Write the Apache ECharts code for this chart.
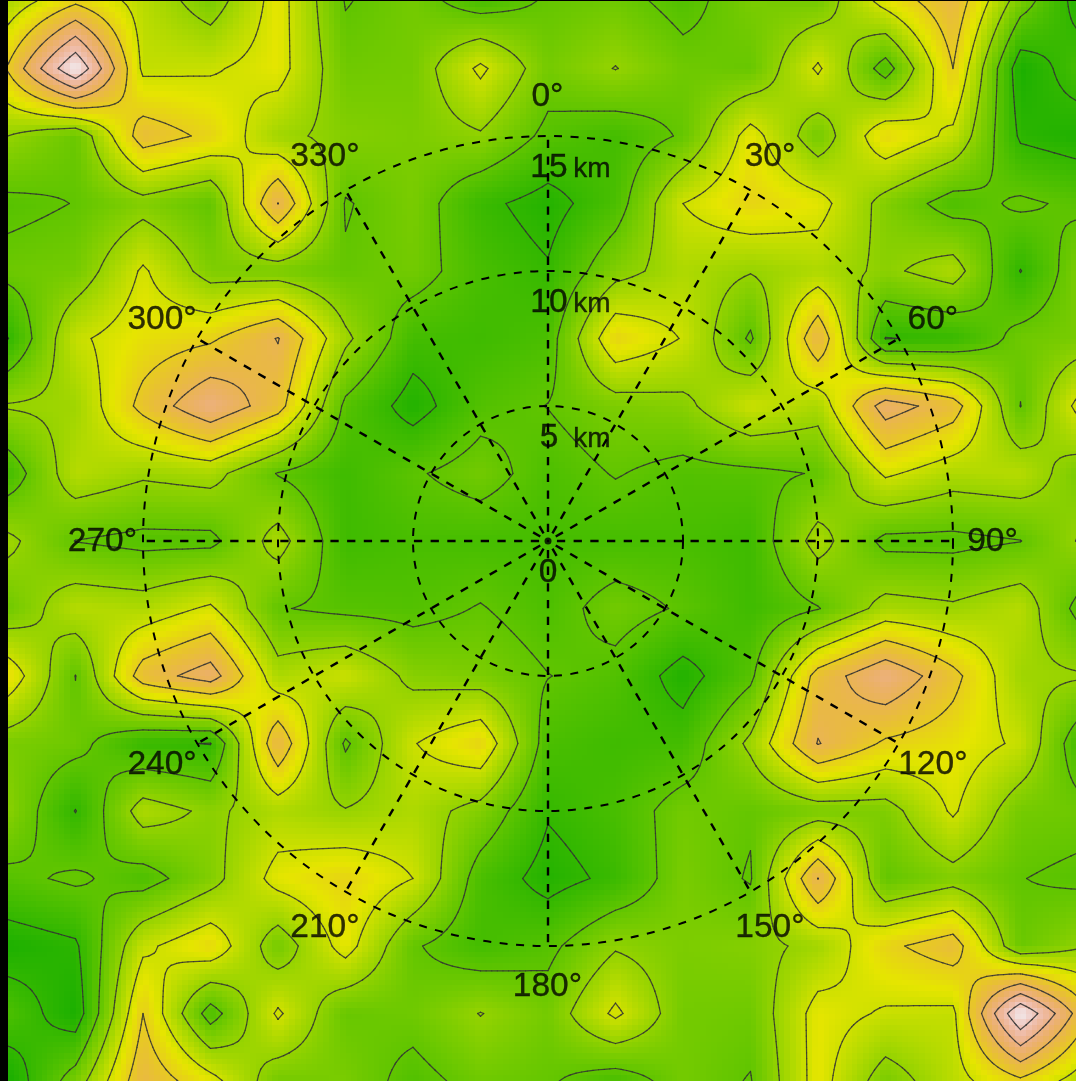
<!DOCTYPE html>
<html><head><meta charset="utf-8">
<style>html,body{margin:0;padding:0;background:#000}#c{width:1076px;height:1081px}</style>
<script src="https://cdn.jsdelivr.net/npm/echarts@6/dist/echarts.min.js"></script>
</head><body><div id="c"></div>
<script>
// Field values on a 2.5 km lattice, from y = +20 km (top) to y = -20 km, x = -20 .. +20 km.
const row00=[2.4,3.8,2.65,1.5,3.4,.95,1.4,.5,1.1,1.3,.7,1.5,1.4,3.35,4.7,1.47,-.64];
const row01=[4.1,8.0,2.8,2.9,3.37,1.3,1.4,3.2,1.4,2.03,1.3,1.15,3.15,.55,4.0,-.56,.6];
const row02=[2.0,1.2,4.5,3.8,2.24,1.7,1.55,1.9,.77,.4,1.1,3.4,1.4,3.7,2.8,-.14,-.5];
const row03=[.8,1.02,1.65,1.05,5.02,.93,1.5,.2,-.33,.55,3.0,3.8,3.35,1.65,.6,1.15,.78];
const row04=[1.25,1.4,3.13,1.6,1.5,1.1,1.37,.5,.08,1.65,2.45,2.05,2.45,1.82,2.45,-.03,1.8];
const row05=[-.02,2.85,3.5,3.85,5.05,2.2,.4,.3,.55,3.8,2.95,.85,4.8,-.03,.12,1.3,1.5];
const row06=[2.08,2.2,4.3,5.85,4.4,.8,-.37,.7,1.02,1.55,1.75,2.95,2.4,5.48,4.5,.98,3.65];
const row07=[.4,2.6,2.14,2.35,.95,.3,.9,1.37,.6,1.05,.72,.8,1.05,3.15,2.45,2.6,1.3];
const row08=[2.23,.98,.75,.75,2.38,.3,.5,.45,.45,.45,.5,.3,2.38,.75,.75,.98,2.23];
const row09=[1.3,2.6,2.45,3.15,1.05,.8,.72,1.05,.6,1.37,.9,.3,.95,2.35,2.14,2.6,.4];
const row10=[3.65,.98,4.5,5.48,2.4,2.95,1.75,1.55,1.02,.7,-.37,.8,4.4,5.85,4.3,2.2,2.08];
const row11=[1.5,1.3,.12,-.03,4.8,.85,2.95,3.8,.55,.3,.4,2.2,5.05,3.85,3.5,2.85,-.02];
const row12=[1.8,-.03,2.45,1.82,2.45,2.05,2.45,1.65,.08,.5,1.37,1.1,1.5,1.6,3.13,1.4,1.25];
const row13=[.78,1.15,.6,1.65,3.35,3.8,3.0,.55,-.33,.2,1.5,.93,5.02,1.05,1.65,1.02,.8];
const row14=[-.5,-.14,2.8,3.7,1.4,3.4,1.1,.4,.77,1.9,1.55,1.7,2.24,3.8,4.5,1.2,2.0];
const row15=[.6,-.56,4.0,.55,3.15,1.15,1.3,2.03,1.4,3.2,1.4,1.3,3.37,2.9,2.8,8.0,4.1];
const row16=[-.64,1.47,4.7,3.35,1.4,1.5,.7,1.3,1.1,.5,1.4,.95,3.4,1.5,2.65,3.8,2.4];
const rows=[row00,row01,row02,row03,row04,row05,row06,row07,row08,row09,row10,row11,row12,row13,row14,row15,row16];
const contourLevels=[0,1,2,3,4,5,6,7];
const rangeTicks=[5,10,15];
const angleTicks=[0,30,60,90,120,150,180,210,240,270,300,330];

const STEP=2.5, EXT=20, SUB=12;
const T0=.136, TK=.108;

// R terrain.colors style ramp
function hsv(h,s,v){
  const c=v*s, hp=h/60, x=c*(1-Math.abs(hp%2-1)), m=v-c;
  let r=0,g=0,b=0;
  if(hp<1){r=c;g=x}else if(hp<2){r=x;g=c}else{r=0;g=c;b=x}
  const f=a=>Math.round((a+m)*255);
  return 'rgb('+f(r)+','+f(g)+','+f(b)+')';
}
function terrain(z){
  const t=Math.max(0,Math.min(1,T0+TK*z));
  if(t<=.5){const u=t/.5;return hsv(120-60*u,1,.65+.25*u)}
  const u=(t-.5)/.5;return hsv(60-60*u,1-u,.9+.05*u);
}

const cells=[];
for(let j=0;j<16;j++)for(let i=0;i<16;i++){
  cells.push([-EXT+i*STEP,EXT-j*STEP,rows[j][i],rows[j][i+1],rows[j+1][i],rows[j+1][i+1]]);
}

function renderCell(params,api){
  const x0=api.value(0),y0=api.value(1),a=api.value(2),b=api.value(3),c=api.value(4),d=api.value(5);
  const ch=[];
  const val=(u,v)=>a*(1-u)*(1-v)+b*u*(1-v)+c*(1-u)*v+d*u*v;
  const pt=(u,v)=>api.coord([x0+u*STEP,y0-v*STEP]);
  for(let p=0;p<SUB;p++)for(let q=0;q<SUB;q++){
    const tl=pt(p/SUB,q/SUB),br=pt((p+1)/SUB,(q+1)/SUB);
    const X=Math.round(tl[0]),Y=Math.round(tl[1]),W=Math.round(br[0])-X,H=Math.round(br[1])-Y;
    ch.push({type:'rect',silent:true,shape:{x:X,y:Y,width:W,height:H},
      style:{fill:terrain(val((p+.5)/SUB,(q+.5)/SUB))}});
  }
  const lineStyle={stroke:'rgba(50,50,50,.85)',lineWidth:1.25,fill:null,lineCap:'round'};
  const lo=Math.min(a,b,c,d),hi=Math.max(a,b,c,d);
  contourLevels.forEach(L=>{
    if(L<lo||L>hi)return;
    for(let p=0;p<SUB;p++)for(let q=0;q<SUB;q++){
      const u0=p/SUB,u1=(p+1)/SUB,v0=q/SUB,v1=(q+1)/SUB;
      const A=val(u0,v0),B=val(u1,v0),C=val(u1,v1),D=val(u0,v1);
      const hits=[];
      const cross=(f,g,uf,vf,ug,vg)=>{
        if((f<L)!==(g<L)){const s=(L-f)/(g-f);hits.push(pt(uf+(ug-uf)*s,vf+(vg-vf)*s));}
      };
      cross(A,B,u0,v0,u1,v0);cross(B,C,u1,v0,u1,v1);cross(D,C,u0,v1,u1,v1);cross(A,D,u0,v0,u0,v1);
      for(let k=0;k+1<hits.length;k+=2){
        ch.push({type:'line',silent:true,z2:5,shape:{x1:hits[k][0],y1:hits[k][1],x2:hits[k+1][0],y2:hits[k+1][1]},style:lineStyle});
      }
    }
  });
  return {type:'group',children:ch};
}

const font='"Liberation Sans",Arial,sans-serif';
const PX_PER_KM=27;
const angleLabelR=445/PX_PER_KM, rangeLabelGap=30/PX_PER_KM;
const heavy={color:'#000',textBorderColor:'#000',textBorderWidth:.35,fontFamily:font};

const option={
  backgroundColor:'#000',
  animation:false,
  grid:{left:8,top:1,width:1068,height:1080,show:false},
  xAxis:{type:'value',min:-EXT,max:-EXT+1068/PX_PER_KM,show:false},
  yAxis:{type:'value',min:-EXT,max:EXT,show:false},
  polar:{center:[548,541],radius:405},
  radiusAxis:{type:'value',min:0,max:15,interval:5,z:10,
    axisLine:{show:false},axisTick:{show:false},axisLabel:{show:false},
    splitLine:{show:true,lineStyle:{color:'#000',width:2,type:[8,8.5]}}},
  angleAxis:{type:'value',min:0,max:360,interval:30,startAngle:90,clockwise:true,z:10,
    axisLine:{show:false},axisTick:{show:false},axisLabel:{show:false},
    splitLine:{show:true,lineStyle:{color:'#000',width:2.4,type:[8.3,8.4],dashOffset:13}}},
  series:[
    {type:'custom',coordinateSystem:'cartesian2d',clip:true,silent:true,z:1,
      renderItem:renderCell,data:cells,encode:{x:0,y:1}},
    {type:'scatter',coordinateSystem:'polar',clip:false,silent:true,z:20,symbolSize:0,
      data:angleTicks.map(a=>[angleLabelR,a]),
      label:Object.assign({show:true,position:'inside',offset:[-.5,1],fontSize:33.5,
        formatter:p=>p.value[1]+'°'},heavy)},
    {type:'scatter',coordinateSystem:'polar',clip:false,silent:true,z:20,symbolSize:0,
      data:rangeTicks.map(r=>({value:[r-rangeLabelGap,0],name:String(r)})),
      label:Object.assign({show:true,position:'inside',offset:[1,1.5],fontSize:33.5,
        formatter:p=>p.name},heavy)},
    {type:'scatter',coordinateSystem:'polar',clip:false,silent:true,z:20,symbolSize:0,
      data:rangeTicks.map(r=>[r-rangeLabelGap,0]),
      label:Object.assign({show:true,position:'inside',offset:[44,3],fontSize:28,
        formatter:'km'},heavy)},
    {type:'scatter',coordinateSystem:'polar',clip:false,silent:true,z:20,symbolSize:7,
      itemStyle:{color:'#000'},data:[[0,0]]},
    {type:'scatter',coordinateSystem:'polar',clip:false,silent:true,z:20,symbolSize:0,
      data:[[rangeLabelGap*1.03,180]],
      label:Object.assign({show:true,position:'inside',offset:[0,1],fontSize:33.5,formatter:'0'},heavy)}
  ]
};
const chart=echarts.init(document.getElementById('c'),null,{renderer:'canvas'});
chart.setOption(option);
</script></body></html>
